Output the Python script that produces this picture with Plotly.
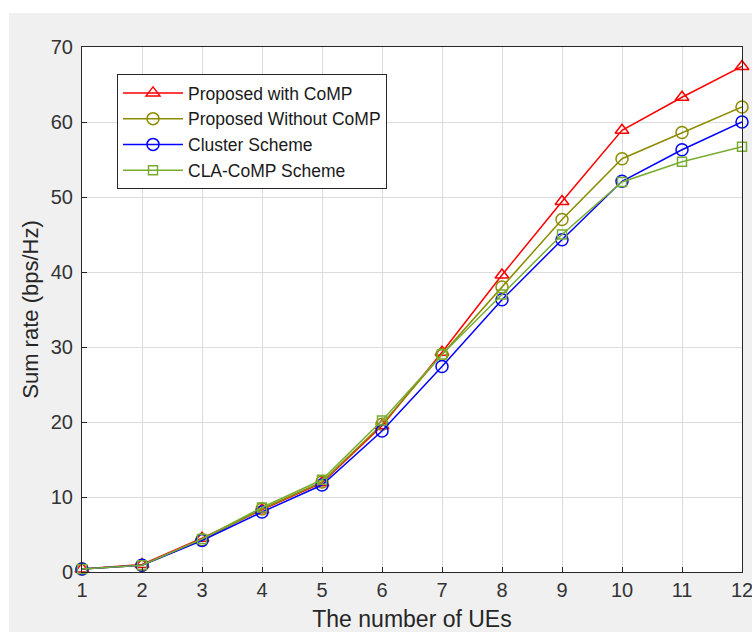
import plotly.graph_objects as go

ues = [1, 2, 3, 4, 5, 6, 7, 8, 9, 10, 11, 12]
proposed_comp = [0.4, 1.0, 4.5, 8.3, 11.9, 19.5, 29.3, 39.6, 49.4, 58.9, 63.3, 67.4]
proposed_no_comp = [0.4, 0.9, 4.3, 8.4, 12.0, 19.7, 29.0, 38.0, 47.0, 55.1, 58.6, 62.0]
cluster = [0.4, 0.9, 4.2, 8.0, 11.6, 18.8, 27.4, 36.3, 44.3, 52.1, 56.3, 60.0]
cla_comp = [0.4, 0.9, 4.4, 8.6, 12.3, 20.2, 29.0, 37.0, 45.0, 52.0, 54.7, 56.7]

series = [
    ("Proposed with CoMP", proposed_comp, "#ff0000", "triangle-up-open", 12),
    ("Proposed Without CoMP", proposed_no_comp, "#8c8c00", "circle-open", 12),
    ("Cluster Scheme", cluster, "#0000ff", "circle-open", 12),
    ("CLA-CoMP Scheme", cla_comp, "#77ac30", "square-open", 9),
]

fig = go.Figure()
for name, vals, color, sym, size in series:
    fig.add_trace(go.Scatter(
        x=ues, y=vals, name=name, mode="lines+markers",
        line=dict(color=color, width=1.5),
        marker=dict(symbol=sym, size=size, color=color, line=dict(color=color, width=1.5)),
        cliponaxis=False,
    ))

W, H = 752, 632
L, R, T, B = 82, 10, 47, 60
pw, ph = W - L - R, H - T - B

font = "Liberation Sans, Arial, sans-serif"
axcol = "#262626"
fig.update_layout(
    width=W, height=H,
    margin=dict(l=L, r=R, t=T, b=B, autoexpand=False),
    paper_bgcolor="#f0f0f0",
    plot_bgcolor="white",
    font=dict(family=font, size=20, color=axcol),
    showlegend=True,
    legend=dict(
        x=(117 - L) / pw, y=(572 - 74) / ph, xanchor="left", yanchor="top",
        bgcolor="white", bordercolor="#262626", borderwidth=1,
        font=dict(size=17.5, color="#1a1a1a"),
        itemwidth=60,
        tracegroupgap=0,
    ),
    shapes=[
        dict(type="rect", xref="paper", yref="paper",
             x0=-L / pw, x1=1 + R / pw, y0=1 + (T - 13) / ph, y1=1 + T / ph,
             fillcolor="white", line_width=0, layer="below"),
        dict(type="rect", xref="paper", yref="paper",
             x0=-L / pw, x1=-(L - 9) / pw, y0=-B / ph, y1=1 + T / ph,
             fillcolor="white", line_width=0, layer="below"),
    ],
)
fig.update_xaxes(
    range=[1, 12], tickmode="array", tickvals=ues, ticktext=[str(u) for u in ues],
    showgrid=True, gridcolor="#dcdcdc", gridwidth=1,
    showline=True, linecolor=axcol, linewidth=1, mirror=True,
    ticks="inside", ticklen=5, tickcolor=axcol, zeroline=False,
    ticklabeloverflow="allow",
    title=dict(text="The number of UEs", font=dict(size=23), standoff=13),
    tickfont=dict(size=20, color="#333333"),
)
fig.update_yaxes(
    range=[0, 70], tickmode="array", tickvals=[0, 10, 20, 30, 40, 50, 60, 70],
    showgrid=True, gridcolor="#dcdcdc", gridwidth=1,
    showline=True, linecolor=axcol, linewidth=1, mirror=True,
    ticks="inside", ticklen=5, tickcolor=axcol, zeroline=False,
    ticklabeloverflow="allow", ticklabelstandoff=4,
    title=dict(text="Sum rate (bps/Hz)", font=dict(size=22), standoff=6),
    tickfont=dict(size=20, color="#333333"),
)

fig.write_html("out.html")
